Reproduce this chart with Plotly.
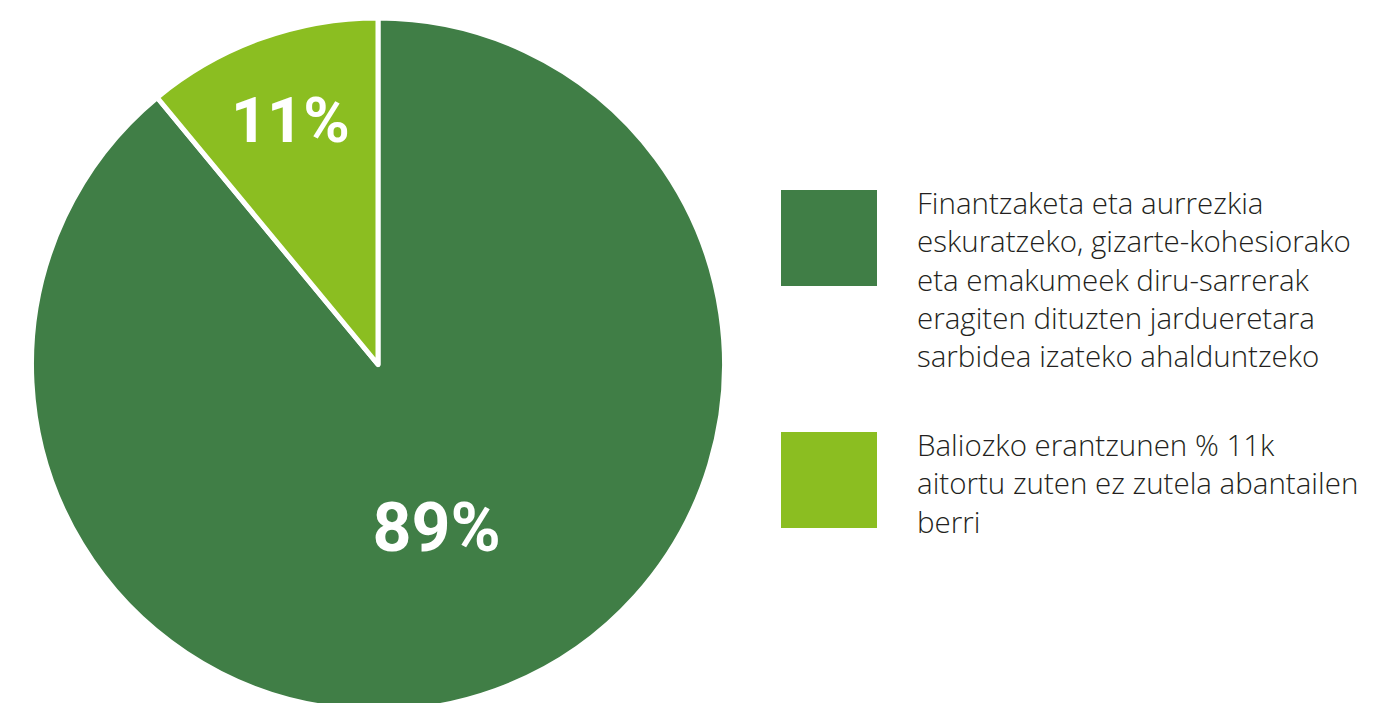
import plotly.graph_objects as go

labels = [
    "Finantzaketa eta aurrezkia<br>eskuratzeko, gizarte-kohesiorako<br>eta emakumeek diru-sarrerak<br>eragiten dituzten jardueretara<br>sarbidea izateko ahalduntzeko",
    "Baliozko erantzunen % 11k<br>aitortu zuten ez zutela abantailen<br>berri",
]
values = [89, 11]
colors = ["#407E46", "#8BBE21"]

W, H = 1394, 703
OFF = 8          # page body margin
TOP = 10
PH = H - TOP
R = PH / 2

def px_x(x):
    return (x - OFF) / W

def px_y(y):
    return (H - (y - OFF)) / PH

fig = go.Figure()
fig.add_trace(go.Pie(
    labels=labels,
    values=values,
    sort=False,
    direction="clockwise",
    rotation=0,
    marker=dict(colors=colors, line=dict(color="white", width=5)),
    texttemplate="%{value}%",
    textposition="inside",
    insidetextorientation="horizontal",
    textfont=dict(family="Roboto", size=[68, 63], color="white", weight="bold"),
    domain=dict(x=[px_x(378) - R / W, px_x(378) + R / W], y=[0, 1]),
    showlegend=False,
    hoverinfo="label+percent",
))

legend_tops = [190, 432]
for i, (lab, col) in enumerate(zip(labels, colors)):
    t = legend_tops[i]
    fig.add_shape(type="rect", xref="paper", yref="paper",
                  x0=px_x(781), x1=px_x(877), y0=px_y(t + 96), y1=px_y(t),
                  fillcolor=col, line=dict(width=0))
    fig.add_annotation(x=px_x(915), y=px_y(t - 10), xref="paper", yref="paper",
                       xanchor="left", yanchor="top", align="left",
                       text=lab, showarrow=False,
                       font=dict(family="Open Sans", size=29.5, color="#231F20", weight=300))

fig.update_layout(
    width=W, height=H,
    margin=dict(l=0, r=0, t=TOP, b=0),
    paper_bgcolor="white", plot_bgcolor="white",
)

fig.write_html("out.html")
